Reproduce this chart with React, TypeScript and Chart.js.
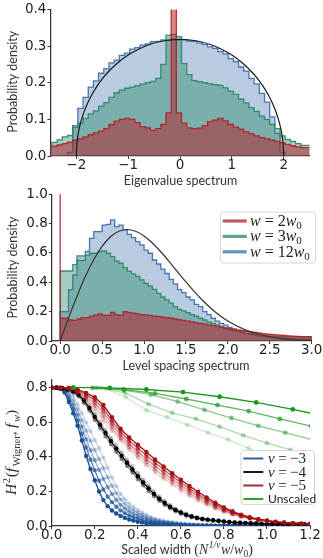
import React, { useEffect, useRef } from 'react';
import { Chart, registerables } from 'chart.js';

Chart.register(...registerables);

const W = 323;

// ---------------- Panel 1: eigenvalue spectrum ----------------
const eigBinStart = -2.57;
const eigBinWidth = 0.1;
const eigBlue = [
  0, 0, 0, 0, 0, 0.010, 0.083, 0.130, 0.160, 0.188,
  0.205, 0.226, 0.238, 0.254, 0.262, 0.275, 0.281, 0.292, 0.296, 0.303,
  0.306, 0.312, 0.313, 0.317, 0.316, 0.319, 0.317, 0.318, 0.314, 0.313,
  0.308, 0.305, 0.298, 0.294, 0.285, 0.279, 0.266, 0.258, 0.243, 0.232,
  0.212, 0.197, 0.171, 0.147, 0.107, 0.062, 0.010, 0, 0, 0, 0,
];
const eigGreen = [
  0.026, 0.030, 0.037, 0.044, 0.052, 0.056, 0.078, 0.090, 0.103, 0.115,
  0.123, 0.136, 0.146, 0.160, 0.172, 0.180, 0.185, 0.188, 0.192, 0.196,
  0.200, 0.204, 0.212, 0.250, 0.330, 0.332, 0.326, 0.252, 0.222, 0.206,
  0.203, 0.200, 0.197, 0.195, 0.193, 0.186, 0.177, 0.168, 0.155, 0.145,
  0.132, 0.122, 0.109, 0.100, 0.086, 0.075, 0.055, 0.045, 0.040, 0.034, 0.029,
];
const eigRed = [
  0.022, 0.024, 0.027, 0.030, 0.034, 0.038, 0.043, 0.047, 0.052, 0.058,
  0.063, 0.068, 0.075, 0.086, 0.095, 0.100, 0.103, 0.100, 0.091, 0.080,
  0.077, 0.070, 0.075, 0.086, 0.118, 0.900, 0.118, 0.090, 0.077, 0.075,
  0.076, 0.083, 0.094, 0.098, 0.103, 0.096, 0.086, 0.079, 0.073, 0.066,
  0.061, 0.055, 0.050, 0.047, 0.043, 0.040, 0.036, 0.032, 0.028, 0.025, 0.023,
];
const semicircleX = [
  -2, -1.99, -1.97, -1.94, -1.9, -1.85, -1.8, -1.7, -1.6, -1.5, -1.4, -1.2, -1.0, -0.8, -0.6, -0.4, -0.2,
  0, 0.2, 0.4, 0.6, 0.8, 1.0, 1.2, 1.4, 1.5, 1.6, 1.7, 1.8, 1.85, 1.9, 1.94, 1.97, 1.99, 2,
];
const semicircleY = [
  0, 0.0318, 0.0549, 0.0774, 0.0994, 0.1209, 0.1388, 0.1677, 0.1910, 0.2105, 0.2273, 0.2546, 0.2757, 0.2917, 0.3037, 0.3119, 0.3167,
  0.3183, 0.3167, 0.3119, 0.3037, 0.2917, 0.2757, 0.2546, 0.2273, 0.2105, 0.1910, 0.1677, 0.1388, 0.1209, 0.0994, 0.0774, 0.0549, 0.0318, 0,
];
const eigXTicks = [-2, -1, 0, 1, 2];
const eigYTicks = [0, 0.1, 0.2, 0.3, 0.4];

// ---------------- Panel 2: level spacing spectrum ----------------
const lsBinStart = 0;
const lsBinWidth = 0.05;
const lsBlue = [
  0.02, 0.20, 0.20, 0.35, 0.45, 0.55, 0.55, 0.61, 0.70, 0.745,
  0.745, 0.79, 0.795, 0.825, 0.78, 0.79, 0.757, 0.727, 0.705, 0.677,
  0.655, 0.62, 0.598, 0.552, 0.525, 0.49, 0.46, 0.42, 0.389, 0.35,
  0.33, 0.30, 0.28, 0.25, 0.235, 0.20, 0.18, 0.155, 0.136, 0.12,
  0.108, 0.093, 0.08, 0.07, 0.06, 0.05, 0.046, 0.04, 0.035, 0.032,
  0.028, 0.025, 0.022, 0.02, 0.018, 0.016, 0.015, 0.013, 0.012, 0.011,
];
const lsGreen = [
  0.47, 0.477, 0.477, 0.477, 0.52, 0.58, 0.58, 0.585, 0.598, 0.598,
  0.61, 0.614, 0.598, 0.575, 0.545, 0.53, 0.50, 0.475, 0.457, 0.44,
  0.416, 0.393, 0.375, 0.352, 0.325, 0.30, 0.28, 0.258, 0.234, 0.216,
  0.205, 0.193, 0.18, 0.17, 0.155, 0.143, 0.13, 0.12, 0.11, 0.098,
  0.085, 0.075, 0.07, 0.064, 0.058, 0.052, 0.048, 0.044, 0.04, 0.038,
  0.035, 0.033, 0.032, 0.031, 0.03, 0.029, 0.028, 0.028, 0.027, 0.026,
];
const lsRed = [
  1.5, 0.155, 0.155, 0.143, 0.14, 0.15, 0.16, 0.16, 0.17, 0.177,
  0.185, 0.175, 0.175, 0.195, 0.18, 0.175, 0.2, 0.195, 0.19, 0.185,
  0.18, 0.178, 0.175, 0.17, 0.168, 0.163, 0.16, 0.155, 0.15, 0.145,
  0.14, 0.135, 0.13, 0.125, 0.12, 0.115, 0.11, 0.105, 0.1, 0.095,
  0.09, 0.085, 0.08, 0.075, 0.07, 0.066, 0.062, 0.058, 0.055, 0.05,
  0.047, 0.045, 0.042, 0.04, 0.038, 0.035, 0.033, 0.032, 0.03, 0.03,
];
const surmiseX = [0, 0.1, 0.2, 0.3, 0.4, 0.5, 0.6, 0.7, 0.8, 0.9, 1.0, 1.1, 1.2, 1.3, 1.4, 1.5, 1.6, 1.7, 1.8, 1.9, 2.0, 2.2, 2.4, 2.6, 2.8, 3.0];
const surmiseY = [0, 0.1559, 0.3045, 0.4391, 0.5541, 0.6455, 0.7104, 0.7483, 0.7602, 0.7484, 0.7161, 0.6681, 0.6083, 0.5416, 0.4717, 0.4025, 0.3365, 0.2759, 0.2220, 0.1752, 0.1358, 0.0772, 0.0409, 0.0202, 0.0093, 0.0040];
const lsXTicks = [0, 0.5, 1.0, 1.5, 2.0, 2.5, 3.0];
const lsYTicks = [0, 0.2, 0.4, 0.6, 0.8, 1.0];
const lsLegend = ['2', '3', '12'];

// ---------------- Panel 3: Hellinger distance vs scaled width ----------------
const nu3Step = 0.02;
const nu3a = [
  0.800, 0.800, 0.793, 0.772, 0.718, 0.652, 0.580, 0.495, 0.405, 0.330,
  0.265, 0.200, 0.150, 0.115, 0.090, 0.072, 0.058, 0.047, 0.038, 0.031,
  0.025, 0.020, 0.016, 0.013, 0.010, 0.008, 0.006, 0.005, 0.004, 0.003,
  0.002, 0.002, 0.001, 0.001, 0.001,
  0, 0, 0, 0, 0, 0, 0, 0, 0, 0, 0, 0, 0, 0, 0, 0, 0, 0, 0, 0, 0, 0, 0, 0, 0, 0,
];
const nu3b = [
  0.800, 0.800, 0.795, 0.778, 0.733, 0.677, 0.611, 0.534, 0.454, 0.385,
  0.323, 0.262, 0.211, 0.170, 0.138, 0.111, 0.090, 0.074, 0.061, 0.051,
  0.042, 0.034, 0.028, 0.023, 0.019, 0.015, 0.012, 0.011, 0.009, 0.007,
  0.006, 0.005, 0.004, 0.003, 0.002, 0.002, 0.001, 0.001,
  0, 0, 0, 0, 0, 0, 0, 0, 0, 0, 0, 0, 0, 0, 0, 0, 0, 0, 0, 0, 0, 0, 0,
];
const nu3c = [
  0.800, 0.800, 0.796, 0.783, 0.749, 0.702, 0.643, 0.574, 0.503, 0.439,
  0.381, 0.325, 0.273, 0.226, 0.185, 0.151, 0.122, 0.101, 0.084, 0.071,
  0.059, 0.049, 0.041, 0.033, 0.027, 0.022, 0.019, 0.016, 0.014, 0.011,
  0.009, 0.008, 0.006, 0.005, 0.004, 0.003, 0.003, 0.002, 0.002, 0.001,
  0.001, 0, 0, 0, 0, 0, 0, 0, 0, 0, 0, 0, 0, 0, 0, 0, 0, 0, 0, 0, 0,
];
const nu3d = [
  0.800, 0.800, 0.798, 0.789, 0.765, 0.727, 0.674, 0.613, 0.552, 0.493,
  0.439, 0.388, 0.334, 0.282, 0.233, 0.190, 0.153, 0.128, 0.107, 0.091,
  0.076, 0.064, 0.053, 0.043, 0.035, 0.029, 0.025, 0.021, 0.018, 0.015,
  0.012, 0.010, 0.008, 0.007, 0.005, 0.004, 0.004, 0.003, 0.002, 0.002,
  0.001, 0.001, 0, 0, 0, 0, 0, 0, 0, 0, 0, 0, 0, 0, 0, 0, 0, 0, 0, 0, 0,
];
const nu3e = [
  0.800, 0.800, 0.799, 0.794, 0.780, 0.752, 0.705, 0.652, 0.600, 0.548,
  0.497, 0.450, 0.395, 0.337, 0.280, 0.230, 0.185, 0.155, 0.130, 0.111,
  0.093, 0.078, 0.065, 0.053, 0.044, 0.036, 0.031, 0.027, 0.023, 0.019,
  0.016, 0.013, 0.011, 0.009, 0.007, 0.006, 0.005, 0.004, 0.003, 0.003,
  0.002, 0.002, 0.001, 0.001, 0, 0, 0, 0, 0, 0, 0, 0, 0, 0, 0, 0, 0, 0, 0, 0, 0,
];
const nu4Step = 0.025;
const nu4a = [
  0.800, 0.800, 0.797, 0.790, 0.779, 0.760, 0.726, 0.683, 0.632, 0.585,
  0.538, 0.492, 0.448, 0.406, 0.366, 0.327, 0.288, 0.252, 0.218, 0.186,
  0.158, 0.133, 0.111, 0.093, 0.078, 0.065, 0.055, 0.047, 0.041, 0.037,
  0.033, 0.030, 0.026, 0.023, 0.021, 0.019, 0.017, 0.016, 0.015, 0.014,
  0.013, 0.013, 0.012, 0.012, 0.011, 0.011, 0.010, 0.010, 0.010,
];
const nu4b = [
  0.800, 0.800, 0.796, 0.787, 0.773, 0.750, 0.713, 0.668, 0.615, 0.567,
  0.519, 0.473, 0.429, 0.387, 0.347, 0.309, 0.271, 0.236, 0.203, 0.172,
  0.146, 0.122, 0.102, 0.085, 0.071, 0.059, 0.050, 0.043, 0.037, 0.033,
  0.030, 0.027, 0.024, 0.021, 0.019, 0.017, 0.016, 0.015, 0.014, 0.013,
  0.012, 0.012, 0.011, 0.011, 0.010, 0.010, 0.010, 0.009, 0.009,
];
const nu4c = [
  0.800, 0.800, 0.798, 0.792, 0.783, 0.767, 0.737, 0.697, 0.648, 0.601,
  0.555, 0.510, 0.466, 0.424, 0.384, 0.344, 0.305, 0.268, 0.233, 0.200,
  0.171, 0.145, 0.122, 0.102, 0.086, 0.072, 0.061, 0.052, 0.045, 0.040,
  0.036, 0.032, 0.028, 0.025, 0.022, 0.020, 0.018, 0.017, 0.016, 0.015,
  0.014, 0.013, 0.013, 0.012, 0.012, 0.011, 0.011, 0.011, 0.010,
];
const nu5Step = 0.04;
const nu5a = [0.800, 0.800, 0.799, 0.790, 0.770, 0.745, 0.700, 0.630, 0.563, 0.512, 0.470, 0.428, 0.385, 0.345, 0.305, 0.268, 0.232, 0.198, 0.165, 0.135, 0.108, 0.085, 0.066, 0.051, 0.040, 0.032, 0.025, 0.020, 0.016, 0.014, 0.012];
const nu5b = [0.800, 0.800, 0.797, 0.785, 0.760, 0.730, 0.680, 0.608, 0.545, 0.493, 0.450, 0.408, 0.366, 0.327, 0.288, 0.252, 0.217, 0.184, 0.153, 0.125, 0.100, 0.079, 0.062, 0.048, 0.038, 0.030, 0.024, 0.019, 0.016, 0.014, 0.012];
const nu5c = [0.800, 0.799, 0.795, 0.778, 0.748, 0.712, 0.658, 0.590, 0.527, 0.475, 0.430, 0.388, 0.347, 0.308, 0.271, 0.236, 0.203, 0.172, 0.143, 0.116, 0.093, 0.074, 0.058, 0.046, 0.037, 0.029, 0.023, 0.019, 0.016, 0.014, 0.012];
const nu5d = [0.800, 0.799, 0.792, 0.772, 0.737, 0.694, 0.634, 0.571, 0.511, 0.459, 0.412, 0.370, 0.329, 0.291, 0.256, 0.221, 0.189, 0.160, 0.133, 0.108, 0.087, 0.069, 0.055, 0.044, 0.035, 0.028, 0.023, 0.019, 0.016, 0.014, 0.012];
const nu5e = [0.800, 0.798, 0.790, 0.765, 0.725, 0.675, 0.610, 0.553, 0.496, 0.443, 0.395, 0.352, 0.312, 0.274, 0.240, 0.205, 0.175, 0.148, 0.123, 0.100, 0.081, 0.065, 0.052, 0.042, 0.034, 0.028, 0.023, 0.019, 0.016, 0.014, 0.012];
const unscaledAX = [0.10, 0.27, 0.44, 0.61, 0.78, 0.95, 1.12, 1.29];
const unscaledA = [0.802, 0.800, 0.790, 0.775, 0.748, 0.715, 0.675, 0.630];
const unscaledBX = [0.19, 0.335, 0.48, 0.625, 0.77, 0.915, 1.06, 1.205];
const unscaledB = [0.800, 0.790, 0.767, 0.735, 0.700, 0.665, 0.620, 0.578];
const unscaledCX = [0.21, 0.335, 0.46, 0.585, 0.71, 0.835, 0.96, 1.085, 1.21];
const unscaledC = [0.800, 0.787, 0.760, 0.720, 0.672, 0.625, 0.580, 0.540, 0.500];
const unscaledDX = [0.23, 0.34, 0.45, 0.56, 0.67, 0.78, 0.89, 1.0, 1.11, 1.22];
const unscaledD = [0.800, 0.770, 0.705, 0.655, 0.620, 0.575, 0.525, 0.480, 0.440, 0.400];
const unscaledEX = [0.25, 0.345, 0.44, 0.535, 0.63, 0.725, 0.82, 0.915, 1.01, 1.105, 1.2];
const unscaledE = [0.795, 0.745, 0.670, 0.630, 0.585, 0.540, 0.500, 0.450, 0.405, 0.365, 0.324];
const hXTicks = [0, 0.2, 0.4, 0.6, 0.8, 1.0, 1.2];
const hYTicks = [0, 0.2, 0.4, 0.6, 0.8];
const hLegend = ['−3', '−4', '−5'];

// ---------------- styling helpers ----------------
const HIST_BLUE = [55, 105, 170];
const HIST_GREEN = [35, 135, 100];
const HIST_RED = [180, 30, 40];
const C_BLUE = [25, 80, 150];
const C_BLACK = [0, 0, 0];
const C_RED = [165, 15, 20];
const C_GREEN = [30, 150, 30];
const rgba = (c: number[], a: number) => `rgba(${c[0]},${c[1]},${c[2]},${a})`;

const MI = (px: number) => `italic ${px}px "Liberation Serif"`;
const MR = (px: number) => `${px}px "Liberation Serif"`;
const SANS = (px: number) => `${px}px Lato`;
const TITLE_COLOR = '#333';

type Seg = { t: string; f: string; dy?: number; sp?: number };

function drawRich(ctx: CanvasRenderingContext2D, segs: Seg[], x: number, y: number, rot = 0, align: 'left' | 'center' = 'center', color = TITLE_COLOR) {
  ctx.save();
  ctx.translate(x, y);
  if (rot) ctx.rotate(rot);
  ctx.textBaseline = 'alphabetic';
  ctx.textAlign = 'left';
  const ws = segs.map((s) => {
    ctx.font = s.f;
    return ctx.measureText(s.t).width + (s.sp || 0);
  });
  const total = ws.reduce((a, b) => a + b, 0);
  let cx = align === 'center' ? -total / 2 : 0;
  ctx.fillStyle = color;
  segs.forEach((s, i) => {
    ctx.font = s.f;
    ctx.fillText(s.t, cx, s.dy || 0);
    cx += ws[i];
  });
  ctx.restore();
}

function legendBox(ctx: CanvasRenderingContext2D, x: number, y: number, w: number, h: number) {
  ctx.save();
  ctx.beginPath();
  (ctx as any).roundRect(x + 0.5, y + 0.5, w, h, 3);
  ctx.fillStyle = 'rgba(255,255,255,0.85)';
  ctx.fill();
  ctx.strokeStyle = '#d6d6d6';
  ctx.lineWidth = 1;
  ctx.stroke();
  ctx.restore();
}

function swatch(ctx: CanvasRenderingContext2D, x0: number, x1: number, y: number, color: string, lw: number) {
  ctx.save();
  ctx.beginPath();
  ctx.moveTo(x0, y);
  ctx.lineTo(x1, y);
  ctx.strokeStyle = color;
  ctx.lineWidth = lw;
  ctx.stroke();
  ctx.restore();
}

function histPoints(start: number, width: number, vals: number[]) {
  const pts = [{ x: start, y: 0 }];
  vals.forEach((v, i) => pts.push({ x: start + i * width, y: v }));
  const end = start + vals.length * width;
  pts.push({ x: end, y: vals[vals.length - 1] });
  pts.push({ x: end, y: 0 });
  return pts;
}

function histDs(pts: any[], c: number[], fillA: number, order: number) {
  return {
    data: pts,
    stepped: 'after',
    fill: 'origin',
    backgroundColor: rgba(c, fillA),
    borderColor: rgba(c, 0.9),
    borderWidth: 1.3,
    pointRadius: 0,
    order,
  };
}

const zip = (xs: number[], ys: number[]) => ys.map((y, i) => ({ x: xs[i], y }));
const grid = (ys: number[], step: number) => ys.map((y, i) => ({ x: +(i * step).toFixed(4), y }));

function lineDs(pts: any[], c: number[], a: number, order: number, r = 2.2) {
  return {
    data: pts,
    borderColor: rgba(c, a),
    backgroundColor: rgba(c, a),
    pointBackgroundColor: rgba(c, a),
    pointBorderWidth: 0,
    pointRadius: r,
    borderWidth: 1.3,
    fill: false,
    order,
  };
}

const tickFont = { family: 'DejaVu Sans', size: 13.5, lineHeight: 1 };

function xAxis(min: number, max: number, ticks: number[], fmt: (v: number) => string, fitH: number) {
  return {
    type: 'linear',
    min,
    max,
    afterBuildTicks: (s: any) => { s.ticks = ticks.map((v) => ({ value: v })); },
    afterFit: (s: any) => { s.height = fitH; s.paddingLeft = 0; s.paddingRight = 0; },
    grid: { display: true, drawOnChartArea: false, drawTicks: true, tickLength: 3, color: '#333', lineWidth: 1 },
    border: { display: true, color: '#333', width: 1.25 },
    ticks: { color: '#222', font: tickFont, padding: 0, maxRotation: 0, autoSkip: false, callback: (v: any) => fmt(Number(v)) },
  };
}

function yAxis(min: number, max: number, ticks: number[], fitW: number) {
  return {
    type: 'linear',
    min,
    max,
    afterBuildTicks: (s: any) => { s.ticks = ticks.map((v) => ({ value: v })); },
    afterFit: (s: any) => { s.width = fitW; s.paddingTop = 0; s.paddingBottom = 0; },
    grid: { display: true, drawOnChartArea: false, drawTicks: true, tickLength: 3, color: '#333', lineWidth: 1 },
    border: { display: true, color: '#333', width: 1.25 },
    ticks: { color: '#222', font: tickFont, padding: 1, autoSkip: false, callback: (v: any) => Number(v).toFixed(1) },
  };
}

function baseOptions(right: number, top: number) {
  return {
    responsive: false,
    animation: false,
    events: [],
    layout: { autoPadding: false, padding: { left: 0, right: W - right, top, bottom: 0 } },
    plugins: { legend: { display: false }, tooltip: { enabled: false } },
    elements: { line: { tension: 0 } },
  };
}

const probLabel: Seg[] = [{ t: 'Probability density', f: SANS(12.5) }];

export default function App() {
  const r1 = useRef<HTMLCanvasElement>(null);
  const r2 = useRef<HTMLCanvasElement>(null);
  const r3 = useRef<HTMLCanvasElement>(null);

  useEffect(() => {
    const charts: Chart[] = [];

    // ---------- Panel 1 ----------
    charts.push(new Chart(r1.current!, {
      type: 'line',
      data: {
        datasets: [
          histDs(histPoints(eigBinStart, eigBinWidth, eigBlue), HIST_BLUE, 0.35, 3),
          histDs(histPoints(eigBinStart, eigBinWidth, eigGreen), HIST_GREEN, 0.42, 2),
          histDs(histPoints(eigBinStart, eigBinWidth, eigRed), HIST_RED, 0.52, 1),
          { data: zip(semicircleX, semicircleY), borderColor: '#1a1a1a', borderWidth: 1.2, pointRadius: 0, fill: false, cubicInterpolationMode: 'monotone', order: 0 },
        ] as any,
      },
      options: {
        ...baseOptions(309.6, 9.5),
        scales: {
          x: xAxis(-2.5, 2.5, eigXTicks, (v) => (v < 0 ? '−' : '') + Math.abs(v), 192 - 156),
          y: yAxis(0, 0.4, eigYTicks, 50.4),
        },
      } as any,
      plugins: [{
        id: 'titles1',
        afterDraw(chart: any) {
          const ctx = chart.ctx;
          drawRich(ctx, [{ t: 'Eigenvalue spectrum', f: SANS(12.5) }], 180.5, 185.3);
          drawRich(ctx, probLabel, 16.7, 81.7, -Math.PI / 2);
        },
      }],
    }));

    // ---------- Panel 2 ----------
    const lsColors = [HIST_RED, HIST_GREEN, HIST_BLUE];
    charts.push(new Chart(r2.current!, {
      type: 'line',
      data: {
        datasets: [
          histDs(histPoints(lsBinStart, lsBinWidth, lsBlue), HIST_BLUE, 0.35, 3),
          histDs(histPoints(lsBinStart, lsBinWidth, lsGreen), HIST_GREEN, 0.42, 2),
          histDs(histPoints(lsBinStart, lsBinWidth, lsRed), HIST_RED, 0.55, 1),
          { data: zip(surmiseX, surmiseY), borderColor: '#333', borderWidth: 1.2, pointRadius: 0, fill: false, cubicInterpolationMode: 'monotone', order: 0 },
        ] as any,
      },
      options: {
        ...baseOptions(311.7, 8.3),
        scales: {
          x: xAxis(-0.1, 3.0, lsXTicks, (v) => v.toFixed(1), 192 - 155),
          y: yAxis(0, 1.0, lsYTicks, 51.8),
        },
      } as any,
      plugins: [{
        id: 'titles2',
        afterDraw(chart: any) {
          const ctx = chart.ctx;
          drawRich(ctx, [{ t: 'Level spacing spectrum', f: SANS(12.5) }], 186, 184.3);
          drawRich(ctx, probLabel, 16.7, 81.5, -Math.PI / 2);
          legendBox(ctx, 220, 25.5, 95, 51);
          lsLegend.forEach((n, i) => {
            const y = 35 + i * 15.4;
            swatch(ctx, 222.7, 246.7, y, rgba(lsColors[i], 0.75), 3.2);
            drawRich(ctx, [
              { t: 'w', f: MI(16), sp: 4 },
              { t: '=', f: MR(16), sp: 4 },
              { t: n, f: MR(16) },
              { t: 'w', f: MI(16) },
              { t: '0', f: MR(11), dy: 3 },
            ], 250, y + 5, 0, 'left', '#222');
          });
        },
      }],
    }));

    // ---------- Panel 3 ----------
    const ds3: any[] = [];
    const add = (d: any) => ds3.push(d);
    add(lineDs(grid(nu3e, nu3Step), C_BLUE, 0.22, 0));
    add(lineDs(grid(nu3d, nu3Step), C_BLUE, 0.35, 0));
    add(lineDs(grid(nu3c, nu3Step), C_BLUE, 0.5, 0));
    add(lineDs(grid(nu3b, nu3Step), C_BLUE, 0.7, 0));
    add(lineDs(grid(nu3a, nu3Step), C_BLUE, 1, 0));
    add(lineDs(grid(nu4c, nu4Step), C_BLACK, 0.22, 0));
    add(lineDs(grid(nu4b, nu4Step), C_BLACK, 0.4, 0));
    add(lineDs(grid(nu4a, nu4Step), C_BLACK, 1, 0));
    add(lineDs(grid(nu5e, nu5Step), C_RED, 0.22, 0));
    add(lineDs(grid(nu5d, nu5Step), C_RED, 0.35, 0));
    add(lineDs(grid(nu5c, nu5Step), C_RED, 0.5, 0));
    add(lineDs(grid(nu5b, nu5Step), C_RED, 0.7, 0));
    add(lineDs(grid(nu5a, nu5Step), C_RED, 1, 0));
    add(lineDs(zip(unscaledEX, unscaledE), C_GREEN, 0.22, 0, 2.4));
    add(lineDs(zip(unscaledDX, unscaledD), C_GREEN, 0.35, 0, 2.4));
    add(lineDs(zip(unscaledCX, unscaledC), C_GREEN, 0.5, 0, 2.4));
    add(lineDs(zip(unscaledBX, unscaledB), C_GREEN, 0.7, 0, 2.4));
    add(lineDs(zip(unscaledAX, unscaledA), C_GREEN, 1, 0, 2.4));
    ds3.forEach((d, i) => { d.order = ds3.length - i; });

    const legendColors = [C_BLUE, C_BLACK, C_RED];
    charts.push(new Chart(r3.current!, {
      type: 'line',
      data: { datasets: ds3 },
      options: {
        ...baseOptions(310, 4),
        scales: {
          x: xAxis(0, 1.2, hXTicks, (v) => v.toFixed(1), 182 - 150),
          y: yAxis(0, 0.845, hYTicks, 51.7),
        },
      } as any,
      plugins: [{
        id: 'titles3',
        afterDraw(chart: any) {
          const ctx = chart.ctx;
          drawRich(ctx, [
            { t: 'Scaled width ', f: SANS(12.5) },
            { t: '(', f: MR(14) },
            { t: 'N', f: MI(14), sp: 0.5 },
            { t: '1/ν', f: MI(9.5), dy: -6, sp: 0.5 },
            { t: 'w', f: MI(14) },
            { t: '/', f: MR(14) },
            { t: 'w', f: MI(14) },
            { t: '0', f: MR(9.5), dy: 3 },
            { t: ')', f: MR(14) },
          ], 187, 178.3);
          drawRich(ctx, [
            { t: 'H', f: MI(15.5), sp: 0.5 },
            { t: '2', f: MR(10.5), dy: -6.5, sp: 0.8 },
            { t: '(', f: MR(15.5) },
            { t: 'f', f: MI(15.5), sp: 1.5 },
            { t: 'Wigner', f: MR(10.5), dy: 3.5 },
            { t: ',', f: MR(15.5), sp: 3.5 },
            { t: 'f', f: MI(15.5), sp: 1.5 },
            { t: 'w', f: MI(10.5), dy: 3.5 },
            { t: ')', f: MR(15.5) },
          ], 16.2, 76.5, -Math.PI / 2);
          legendBox(ctx, 240.5, 74, 73.5, 54);
          hLegend.forEach((n, i) => {
            const y = 82.5 + i * 13.5;
            swatch(ctx, 243.3, 263.3, y, rgba(legendColors[i], 0.9), 2);
            drawRich(ctx, [
              { t: 'ν', f: MI(15), sp: 3.5 },
              { t: '=', f: MR(15), sp: 3.5 },
              { t: n, f: MR(15) },
            ], 268, y + 4.5, 0, 'left', '#222');
          });
          const yU = 82.5 + 3 * 13.5;
          swatch(ctx, 243.3, 263.3, yU, rgba(C_GREEN, 0.9), 2);
          drawRich(ctx, [{ t: 'Unscaled', f: SANS(12) }], 268, yU + 4.2, 0, 'left', '#222');
        },
      }],
    }));

    return () => charts.forEach((c) => c.destroy());
  }, []);

  const cs = (top: number, h: number): React.CSSProperties => ({ position: 'absolute', left: 0, top, width: W, height: h });
  return (
    <div style={{ position: 'absolute', left: 0, top: 0, width: W, height: 558, background: '#fff', overflow: 'hidden' }}>
      <canvas ref={r1} width={W} height={192} style={cs(0, 192)} />
      <canvas ref={r2} width={W} height={192} style={cs(186, 192)} />
      <canvas ref={r3} width={W} height={182} style={cs(376, 182)} />
    </div>
  );
}
